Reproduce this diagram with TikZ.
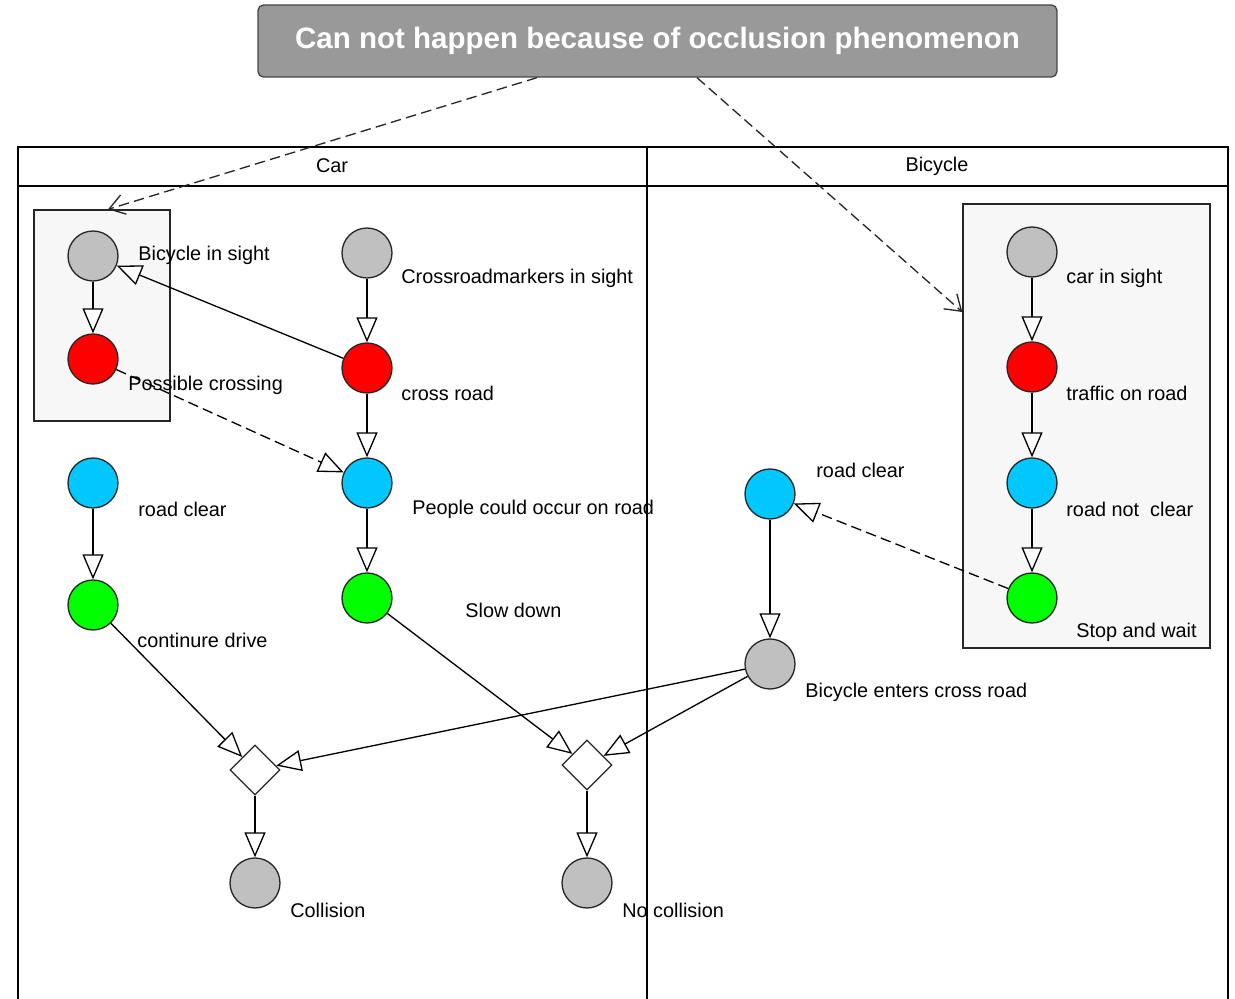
\documentclass[tikz,border=0pt]{standalone}
\usepackage{fontspec}
\setmainfont{Liberation Sans}
\usetikzlibrary{arrows.meta,shapes.geometric}
\definecolor{stGray}{RGB}{192,192,192}
\definecolor{stRed}{RGB}{255,0,0}
\definecolor{stCyan}{RGB}{0,200,255}
\definecolor{stGreen}{RGB}{0,255,0}
\definecolor{grpFill}{RGB}{247,247,247}
\definecolor{noteFill}{RGB}{153,153,153}
\definecolor{noteLine}{RGB}{70,70,70}
\newcommand{\lblfont}{\fontsize{11.3}{13}\selectfont}

\begin{document}
\begin{tikzpicture}[
    x=0.02cm, y=-0.02cm,
    lane/.style={draw=black, line width=0.6pt},
    group/.style={draw=black!85, fill=grpFill, line width=0.75pt, inner sep=0pt},
    state/.style={circle, draw=black!85, line width=0.75pt, minimum size=1cm, inner sep=0pt},
    merge/.style={diamond, draw=black!85, fill=white, line width=0.75pt, minimum size=1cm, inner sep=0pt},
    lbl/.style={anchor=west, inner sep=0pt, font=\lblfont},
    flow/.style={draw=black, line width=0.75pt, -{Triangle[length=0.5cm, width=0.42cm, fill=white, line width=0.75pt]}},
    maybe/.style={flow, dash pattern=on 6pt off 3pt},
    occl/.style={draw=black!85, line width=0.75pt, dash pattern=on 6pt off 3pt,
                 -{Straight Barb[length=0.3cm, width=0.4cm, line width=0.75pt]}},
  ]
  \useasboundingbox (0,0) rectangle (1235,999);

  %% ================= the two swimlanes =================
  \draw[lane] (18,999) -- (18,147) -- (1228,147) -- (1228,999);
  \draw[lane] (18,186) -- (1228,186);
  \draw[lane] (647,147) -- (647,999);
  \node[font=\lblfont] (carhead)  at (332,166) {Car};
  \node[font=\lblfont] (bikehead) at (937,166) {Bicycle};

  %% ================= the note and its two groups =================
  \node[draw=noteLine, fill=noteFill, rounded corners=3pt, line width=0.75pt,
        minimum width=15.98cm, minimum height=1.44cm, text=white,
        font=\bfseries\fontsize{16.8}{20}\selectfont] (note) at (657.5,41)
        {Can not happen because of occlusion phenomenon};
  \node[group, minimum width=2.72cm, minimum height=4.22cm] (lgroup) at (102,315.5) {};
  \node[group, minimum width=4.94cm, minimum height=8.88cm] (rgroup) at (1086.5,426) {};

  %% ================= car lane =================
  \node[state, fill=stGray]  (bis) at (93,256) {};
  \node[state, fill=stRed]   (pc)  at (93,359) {};
  \node[state, fill=stGray]  (crm) at (367,253) {};
  \node[state, fill=stRed]   (cr)  at (367,368) {};
  \node[state, fill=stCyan]  (pco) at (367,483) {};
  \node[state, fill=stGreen] (sd)  at (367,598) {};
  \node[state, fill=stCyan]  (rcl) at (93,483) {};
  \node[state, fill=stGreen] (cd)  at (93,605) {};
  \node[merge] (jcol) at (255,770) {};
  \node[merge] (jnoc) at (587,765) {};
  \node[state, fill=stGray]  (col) at (255,883) {};
  \node[state, fill=stGray]  (noc) at (587,883) {};

  \node[lbl] (tbis) at (138,255) {Bicycle in sight};
  \node[lbl] (tpc)  at (128,385) {Possible crossing};
  \node[lbl] (tcrm) at (401,278) {Crossroadmarkers in sight};
  \node[lbl] (tcr)  at (401,393) {cross road};
  \node[lbl] (tpco) at (412,509) {People could occur on road};
  \node[lbl] (tsd)  at (465,610) {Slow down};
  \node[lbl] (trcl) at (138,509) {road clear};
  \node[lbl] (tcd)  at (137,640) {continure drive};
  \node[lbl] (tcol) at (290,910) {Collision};
  \node[lbl] (tnoc) at (622,910) {No collision};

  %% ================= bicycle lane =================
  \node[state, fill=stCyan]  (rcr) at (770,494) {};
  \node[state, fill=stGray]  (bec) at (770,664) {};
  \node[state, fill=stGray]  (cis) at (1032,252) {};
  \node[state, fill=stRed]   (tor) at (1032,367) {};
  \node[state, fill=stCyan]  (rnc) at (1032,483) {};
  \node[state, fill=stGreen] (saw) at (1032,598) {};

  \node[lbl] (trcr) at (816,470)  {road clear};
  \node[lbl] (tbec) at (805,692)  {Bicycle enters cross road};
  \node[lbl] (tcis) at (1066,278) {car in sight};
  \node[lbl] (ttor) at (1066,393) {traffic on road};
  \node[lbl] (trnc) at (1066,509) {road not\ \ clear};
  \node[lbl] (tsaw) at (1076,632) {Stop and wait};

  %% ================= transitions =================
  \draw[flow] (bis) -- (pc);
  \draw[flow] (crm) -- (cr);
  \draw[flow] (cr) -- (bis);
  \draw[flow] (cr) -- (pco);
  \draw[maybe] (pc) -- (pco);
  \draw[flow] (pco) -- (sd);
  \draw[flow] (rcl) -- (cd);
  \draw[flow] (cd) -- (jcol);
  \draw[flow] (sd) -- (jnoc);
  \draw[flow] (bec) -- (jcol);
  \draw[flow] (bec) -- (jnoc);
  \draw[flow] (jcol) -- (col);
  \draw[flow] (jnoc) -- (noc);
  \draw[flow] (rcr) -- (bec);
  \draw[flow] (cis) -- (tor);
  \draw[flow] (tor) -- (rnc);
  \draw[flow] (rnc) -- (saw);
  \draw[maybe] (saw) -- (rcr);

  %% ---- the note points at both groups ----
  \draw[occl] ([xshift=-2.41cm]note.south) -- ([xshift=0.12cm]lgroup.north);
  \draw[occl] ([xshift=0.79cm]note.south) -- ([yshift=2.28cm]rgroup.west);

\end{tikzpicture}
\end{document}
